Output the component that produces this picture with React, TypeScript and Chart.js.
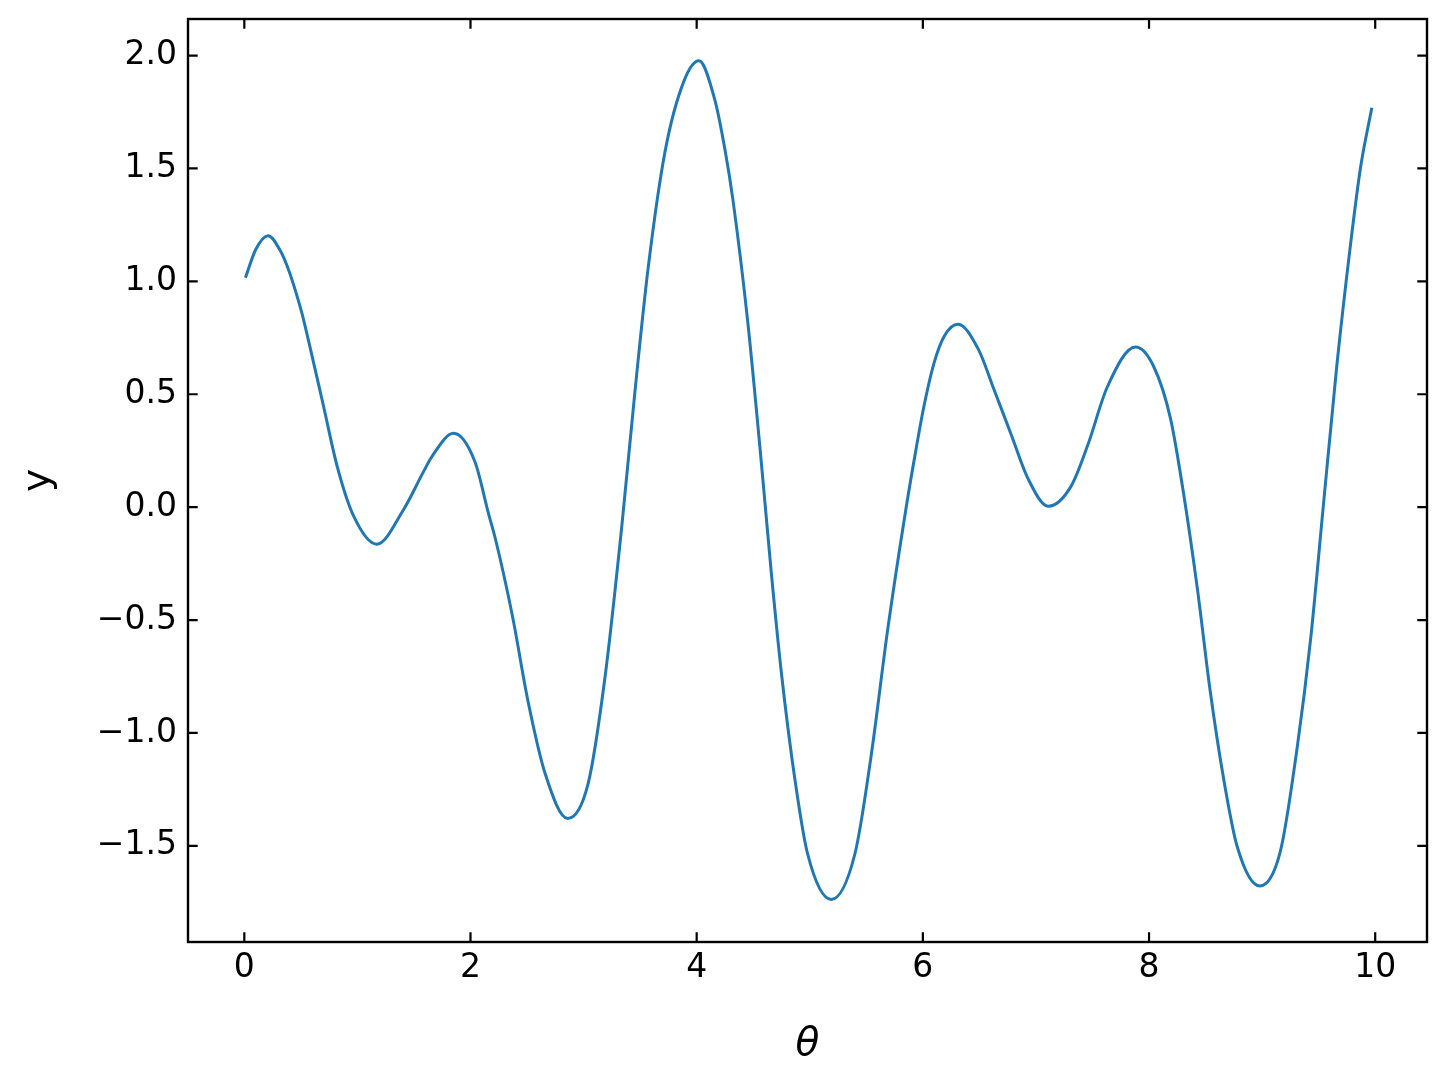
import React, { useEffect, useRef } from "react";
import { Chart, registerables } from "chart.js";

Chart.register(...registerables);

// theta positions (not evenly spaced)
const theta = [
  0.01, 0.1, 0.21, 0.32, 0.395, 0.453, 0.512, 0.585, 0.7, 0.82, 0.965, 1.17,
  1.41, 1.58, 1.66, 1.85, 2.04, 2.16, 2.22, 2.37, 2.51, 2.66, 2.86, 3.04, 3.19,
  3.34, 3.45, 3.57, 3.72, 3.89, 4.02, 4.16, 4.25, 4.32, 4.45, 4.57, 4.66, 4.75,
  4.87, 4.98, 5.19, 5.4, 5.54, 5.69, 5.85, 5.94, 6.01, 6.1, 6.19, 6.31, 6.49,
  6.63, 6.78, 6.93, 7.11, 7.31, 7.46, 7.63, 7.88, 8.04, 8.19, 8.31, 8.43, 8.54,
  8.66, 8.78, 8.98, 9.16, 9.31, 9.43, 9.54, 9.66, 9.78, 9.87, 9.97,
];

const yValues = [
  1.016, 1.14, 1.202, 1.134, 1.046, 0.957, 0.854, 0.7, 0.448, 0.183, -0.038,
  -0.164, -0.009, 0.153, 0.225, 0.327, 0.2, -0.03, -0.14, -0.48, -0.863,
  -1.18, -1.379, -1.225, -0.751, -0.074, 0.491, 1.055, 1.574, 1.89, 1.977,
  1.805, 1.584, 1.363, 0.828, 0.207, -0.291, -0.738, -1.211, -1.534, -1.738,
  -1.534, -1.111, -0.539, -0.009, 0.257, 0.448, 0.64, 0.758, 0.81, 0.7, 0.52,
  0.323, 0.126, 0.004, 0.092, 0.277, 0.531, 0.709, 0.624, 0.392, 0.046, -0.371,
  -0.811, -1.204, -1.504, -1.678, -1.527, -1.065, -0.579, -0.001, 0.624, 1.156,
  1.503, 1.769,
];

const xTickValues = [0, 2, 4, 6, 8, 10];
const yTickValues = [-1.5, -1.0, -0.5, 0.0, 0.5, 1.0, 1.5, 2.0];

const FONT = "'DejaVu Sans', sans-serif";

// matplotlib style: ticks pointing inward on all four sides + full frame
const inwardTicks = {
  id: "inwardTicks",
  afterDatasetsDraw(chart: any) {
    const { ctx, chartArea, scales } = chart;
    const { left, right, top, bottom } = chartArea;
    const len = 9.7;
    ctx.save();
    ctx.strokeStyle = "#000";
    ctx.lineWidth = 2.2;
    ctx.beginPath();
    scales.x.ticks.forEach((t: any) => {
      const px = scales.x.getPixelForValue(t.value);
      ctx.moveTo(px, bottom);
      ctx.lineTo(px, bottom - len);
      ctx.moveTo(px, top);
      ctx.lineTo(px, top + len);
    });
    scales.y.ticks.forEach((t: any) => {
      const py = scales.y.getPixelForValue(t.value);
      ctx.moveTo(left, py);
      ctx.lineTo(left + len, py);
      ctx.moveTo(right, py);
      ctx.lineTo(right - len, py);
    });
    ctx.stroke();
    ctx.lineWidth = 2.4;
    ctx.strokeRect(left, top, right - left, bottom - top);
    ctx.restore();
  },
};

const App = () => {
  const canvasRef = useRef<HTMLCanvasElement>(null);

  useEffect(() => {
    if (!canvasRef.current) return;
    const chart = new Chart(canvasRef.current, {
      type: "line",
      data: {
        datasets: [
          {
            data: theta.map((t, i) => ({ x: t, y: yValues[i] })),
            borderColor: "#1f77b4",
            borderWidth: 3,
            pointRadius: 0,
            fill: false,
            cubicInterpolationMode: "monotone",
          },
        ],
      },
      options: {
        animation: false,
        responsive: true,
        maintainAspectRatio: false,
        layout: { padding: { left: 0, top: 19, right: 20, bottom: 0 } },
        plugins: { legend: { display: false }, tooltip: { enabled: false } },
        scales: {
          x: {
            type: "linear",
            min: -0.498,
            max: 10.458,
            grid: { display: false, drawTicks: false },
            border: { display: false },
            afterBuildTicks: (scale: any) => {
              scale.ticks = xTickValues.map((v) => ({ value: v }));
            },
            afterFit: (scale: any) => {
              scale.height = 141;
              scale.paddingLeft = 0;
              scale.paddingRight = 0;
            },
            ticks: {
              padding: 7,
              color: "#000",
              font: { family: FONT, size: 33 },
              maxRotation: 0,
              callback: (v: any) => String(v),
            },
            title: {
              display: true,
              text: "θ",
              color: "#000",
              font: { family: FONT, size: 39, style: "italic" },
              padding: { top: 0, bottom: 15 },
            },
          },
          y: {
            type: "linear",
            min: -1.926,
            max: 2.162,
            grid: { display: false, drawTicks: false },
            border: { display: false },
            afterBuildTicks: (scale: any) => {
              scale.ticks = yTickValues.map((v) => ({ value: v }));
            },
            afterFit: (scale: any) => {
              scale.width = 188;
              scale.paddingTop = 0;
              scale.paddingBottom = 0;
            },
            ticks: {
              padding: 11,
              color: "#000",
              font: { family: FONT, size: 33 },
              callback: (v: any) => Number(v).toFixed(1).replace("-", "\u2212"),
            },
            title: {
              display: true,
              text: "y",
              color: "#000",
              font: { family: FONT, size: 39 },
              padding: { top: 15, bottom: 0 },
            },
          },
        },
      },
      plugins: [inwardTicks],
    });
    return () => chart.destroy();
  }, []);

  return (
    <div
      style={{
        position: "absolute",
        left: 0,
        top: 0,
        width: 1447,
        height: 1083,
        background: "#fff",
      }}
    >
      <canvas ref={canvasRef} />
    </div>
  );
};

export default App;
